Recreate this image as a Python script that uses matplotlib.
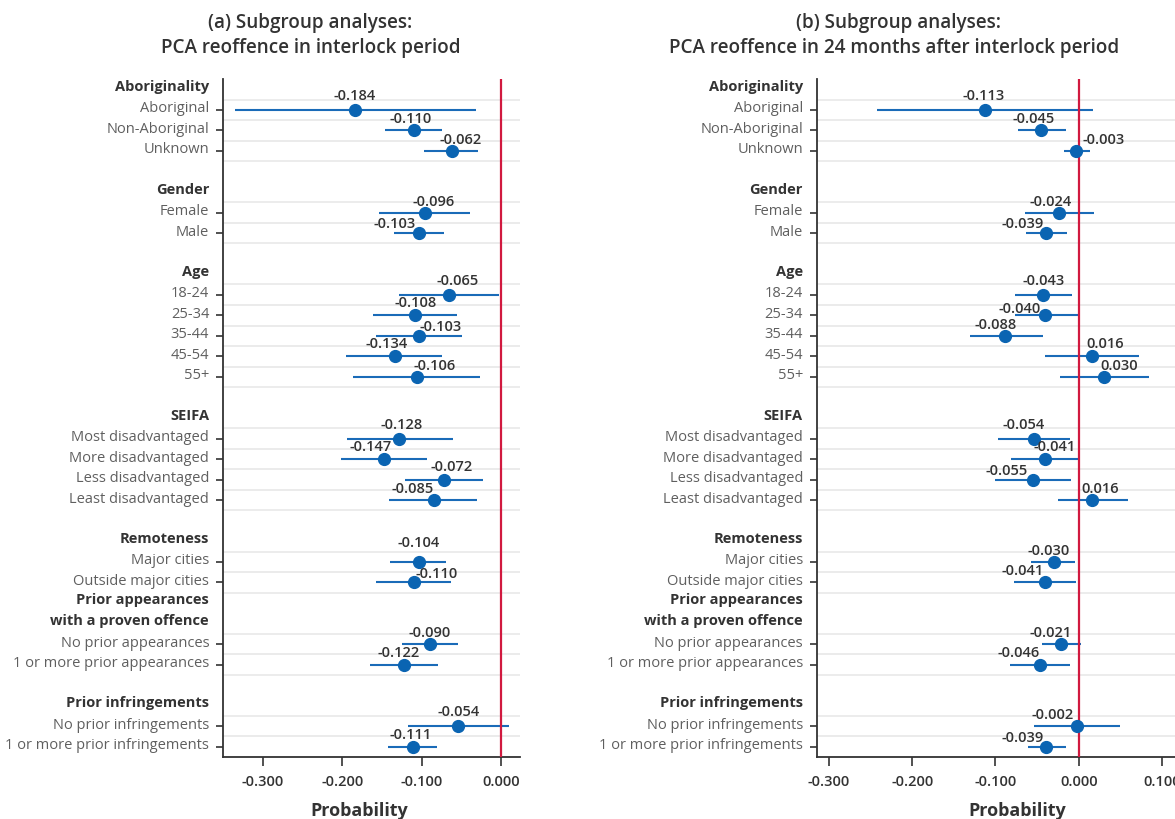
import matplotlib
matplotlib.use('Agg')
import matplotlib.pyplot as plt
import matplotlib.transforms as mtransforms

plt.rcParams['font.family'] = ['Open Sans', 'DejaVu Sans']

# 분석 그룹과 범주
group_titles = ['Aboriginality', 'Gender', 'Age', 'SEIFA', 'Remoteness',
                'Prior appearances\nwith a proven offence', 'Prior infringements']
group_categories = [
    ['Aboriginal', 'Non-Aboriginal', 'Unknown'],
    ['Female', 'Male'],
    ['18-24', '25-34', '35-44', '45-54', '55+'],
    ['Most disadvantaged', 'More disadvantaged', 'Less disadvantaged', 'Least disadvantaged'],
    ['Major cities', 'Outside major cities'],
    ['No prior appearances', '1 or more prior appearances'],
    ['No prior infringements', '1 or more prior infringements'],
]

# (a) interlock period
est_a = [-0.184, -0.110, -0.062, -0.096, -0.103, -0.065, -0.108, -0.103, -0.134, -0.106,
         -0.128, -0.147, -0.072, -0.085, -0.104, -0.110, -0.090, -0.122, -0.054, -0.111]
low_a = [-0.335, -0.146, -0.097, -0.154, -0.135, -0.129, -0.162, -0.157, -0.195, -0.186,
         -0.194, -0.202, -0.121, -0.141, -0.140, -0.157, -0.125, -0.165, -0.117, -0.142]
high_a = [-0.032, -0.074, -0.029, -0.039, -0.072, -0.003, -0.055, -0.049, -0.074, -0.026,
          -0.061, -0.093, -0.023, -0.030, -0.069, -0.063, -0.054, -0.079, 0.010, -0.081]

# (b) 24 months after interlock period
est_b = [-0.113, -0.045, -0.003, -0.024, -0.039, -0.043, -0.040, -0.088, 0.016, 0.030,
         -0.054, -0.041, -0.055, 0.016, -0.030, -0.041, -0.021, -0.046, -0.002, -0.039]
low_b = [-0.242, -0.073, -0.018, -0.064, -0.063, -0.077, -0.077, -0.131, -0.041, -0.022,
         -0.097, -0.081, -0.100, -0.025, -0.057, -0.078, -0.044, -0.082, -0.054, -0.061]
high_b = [0.017, -0.015, 0.013, 0.018, -0.014, -0.008, -0.001, -0.043, 0.073, 0.084,
          -0.010, 0.000, -0.009, 0.059, -0.004, -0.003, 0.003, -0.010, 0.050, -0.015]

# 값 라벨이 겹치지 않도록 옮기는 양 (픽셀)
nudge_x_a = [0, -3, 9, 9, -25, 8, 0, 21, -8, 18, 2, -14, 8, -21, 0, 23, 0, -6, 0, -2]
nudge_y_a = [15, 12, 12, 12, 10, 15, 13, 10, 13, 12, 15, 13, 14, 12, 20, 9, 12, 13, 15, 13]
nudge_x_b = [-1, -8, 27, -8, -24, 1, -26, -10, 13, 16, -10, 10, -26, 8, -5, -22, -11, -22, -24, -24]
nudge_y_b = [15, 12, 12, 12, 10, 15, 7, 12, 13, 12, 15, 13, 10, 12, 12, 12, 12, 13, 12, 10]

TEXT_DARK = '#333333'
TEXT_GREY = '#5f5f5f'
BLUE_LINE = '#1a6bb8'
BLUE_DOT = '#0a64b2'
RED = '#d1193f'


def build_rows():
    '''그룹 제목과 범주의 행 위치 계산'''
    heading_rows, cat_rows = [], []
    pos = 0
    for i, cats in enumerate(group_categories):
        if i > 0:
            pos += 1
        heading_rows.append(pos)
        pos += 1
        for _ in cats:
            cat_rows.append(pos)
            pos += 1
    return heading_rows, cat_rows, pos


def draw_panel(ax, est, low, high, nudge_x, nudge_y, xlim, xticks):
    heading_rows, cat_rows, n_rows = build_rows()
    labels = [c for cats in group_categories for c in cats]

    for r in cat_rows:
        for g in (r - 0.5, r + 0.5):
            ax.axhline(g, color='#ebebeb', lw=1.3, zorder=0)

    ax.hlines(cat_rows, low, high, color=BLUE_LINE, lw=1.5, zorder=2)
    ax.axvline(0, color=RED, lw=1.6, zorder=3)
    ax.plot(est, cat_rows, 'o', color=BLUE_DOT, ms=8.5, zorder=4)

    for v, r, dx, dy in zip(est, cat_rows, nudge_x, nudge_y):
        ax.annotate(f'{v:.3f}', xy=(v, r), xytext=(dx, dy), textcoords='offset pixels',
                    ha='center', va='center', fontsize=10.5, fontweight='semibold',
                    color=TEXT_DARK, zorder=5)

    # 그룹 제목 (굵게)
    for title, r in zip(group_titles, heading_rows):
        lines = title.split('\n')
        for k, line in enumerate(reversed(lines)):
            ax.annotate(line, xy=(0, r - k), xycoords=('axes fraction', 'data'),
                        xytext=(-14, 3.5), textcoords='offset pixels',
                        ha='right', va='center', fontsize=10.5, fontweight='bold',
                        color=TEXT_DARK)

    ax.set_ylim(n_rows - 0.5, -0.5)
    ax.set_xlim(*xlim)
    ax.set_yticks(cat_rows)
    ax.set_yticklabels(labels, color=TEXT_GREY, fontsize=10.5)
    ax.set_xticks(xticks)
    ax.set_xticklabels([f'{t:.3f}' for t in xticks], fontsize=10.5,
                       fontweight='semibold', color=TEXT_DARK)
    ax.tick_params(axis='y', length=5, width=1.2, color=TEXT_DARK, pad=5)
    ax.tick_params(axis='x', length=6.5, width=1.2, color=TEXT_DARK, pad=6)

    # 범주 라벨은 눈금보다 살짝 위에 놓임
    shift = mtransforms.ScaledTranslation(0, 4 / 100, ax.figure.dpi_scale_trans)
    for tick in ax.yaxis.get_major_ticks():
        tick.label1.set_transform(tick.label1.get_transform() + shift)

    for side in ('top', 'right'):
        ax.spines[side].set_visible(False)
    for side in ('left', 'bottom'):
        ax.spines[side].set_color(TEXT_DARK)
        ax.spines[side].set_linewidth(1.3)


fig = plt.figure(figsize=(11.75, 8.2), dpi=100)
ax_a = fig.add_axes([0.1898, 0.0756, 0.2528, 0.8268])
ax_b = fig.add_axes([0.6953, 0.0756, 0.3047, 0.8268])

draw_panel(ax_a, est_a, low_a, high_a, nudge_x_a, nudge_y_a,
           (-0.3505, 0.024), [-0.3, -0.2, -0.1, 0.0])
draw_panel(ax_b, est_b, low_b, high_b, nudge_x_b, nudge_y_b,
           (-0.3145, 0.1157), [-0.3, -0.2, -0.1, 0.0, 0.1])

title_kw = dict(ha='center', va='center', fontsize=13.6, fontweight='semibold', color=TEXT_DARK)
fig.text(310 / 1175, 1 - 22.7 / 820, '(a) Subgroup analyses:', **title_kw)
fig.text(311 / 1175, 1 - 48.3 / 820, 'PCA reoffence in interlock period', **title_kw)
fig.text(899 / 1175, 1 - 22.7 / 820, '(b) Subgroup analyses:', **title_kw)
fig.text(894 / 1175, 1 - 48.3 / 820, 'PCA reoffence in 24 months after interlock period', **title_kw)

xlabel_kw = dict(ha='center', va='center', fontsize=13, fontweight='bold', color=TEXT_DARK)
fig.text(359 / 1175, 1 - 811 / 820, 'Probability', **xlabel_kw)
fig.text(1017 / 1175, 1 - 811 / 820, 'Probability', **xlabel_kw)

fig.savefig('out.png', dpi=100, facecolor='white')
